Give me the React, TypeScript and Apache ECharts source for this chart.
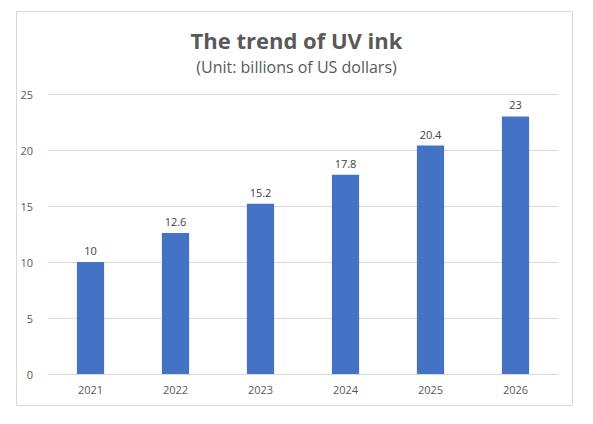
import React, { useEffect, useRef } from 'react';
import * as echarts from 'echarts';

const years = ['2021', '2022', '2023', '2024', '2025', '2026'];
const values = [10, 12.6, 15.2, 17.8, 20.4, 23];

const App: React.FC = () => {
  const ref = useRef<HTMLDivElement>(null);

  useEffect(() => {
    if (!ref.current) return;
    const chart = echarts.init(ref.current, null, { renderer: 'svg' });
    const font = '"Open Sans", "Noto Sans", sans-serif';

    chart.setOption({
      animation: false,
      backgroundColor: '#fff',
      graphic: [
        {
          type: 'rect',
          shape: { x: 16.5, y: 11.5, width: 556, height: 394 },
          style: { fill: 'none', stroke: '#d9d9d9', lineWidth: 1 },
          silent: true,
        },
      ],
      title: {
        text: 'The trend of UV ink',
        subtext: '(Unit: billions of US dollars)',
        left: 'center',
        top: 24,
        itemGap: 8,
        textStyle: { fontFamily: font, fontSize: 22, fontWeight: 'bold', color: '#595959' },
        subtextStyle: { fontFamily: font, fontSize: 16, color: '#595959' },
      },
      grid: { left: 48, right: 35, top: 94, bottom: 50 },
      xAxis: {
        type: 'category',
        data: years,
        axisTick: { show: false },
        axisLine: { lineStyle: { color: '#d9d9d9' } },
        axisLabel: { color: '#595959', fontSize: 11, fontFamily: font, margin: 10 },
      },
      yAxis: {
        type: 'value',
        min: 0,
        max: 25,
        interval: 5,
        axisLabel: { color: '#595959', fontSize: 11, fontFamily: font, margin: 15 },
        splitLine: { lineStyle: { color: '#d9d9d9' } },
      },
      series: [
        {
          type: 'bar',
          data: values,
          barWidth: '32%',
          itemStyle: { color: '#4472C4' },
          label: {
            show: true,
            position: 'top',
            distance: 6,
            color: '#404040',
            fontSize: 11,
            fontFamily: font,
          },
        },
      ],
    });

    return () => chart.dispose();
  }, []);

  return <div ref={ref} style={{ position: 'fixed', left: 0, top: 0, width: 593, height: 424 }} />;
};

export default App;
